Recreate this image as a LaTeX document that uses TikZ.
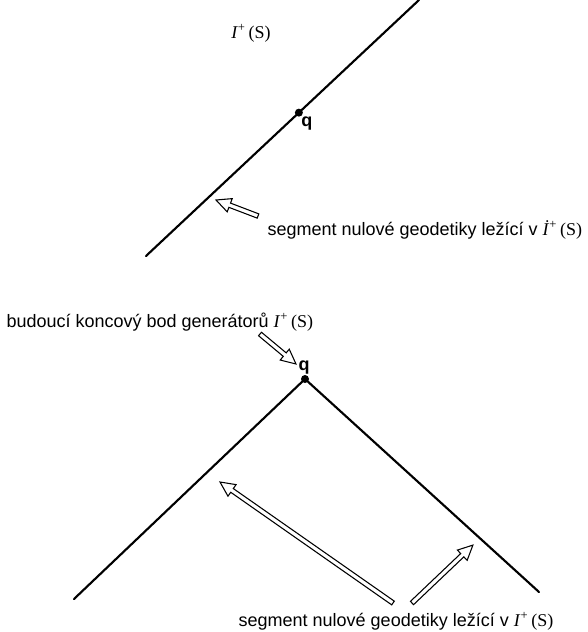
\documentclass[tikz,border=0pt]{standalone}
\usepackage{fontspec}
\setmainfont{Liberation Sans}
\newfontfamily\timesfont{Liberation Serif}
\usetikzlibrary{calc}

\tikzset{every picture/.style={line width=0.75pt}}
\tikzset{
  cone/.style={line width=1.6pt, line cap=round, line join=round},
  event/.style={circle, fill=black, inner sep=0pt, minimum size=6pt},
  labeltext/.style={inner sep=0pt, font=\fontsize{13.5}{16}\selectfont},
  qlabel/.style={inner sep=0pt, font=\fontsize{13.5}{16}\selectfont\bfseries},
  pointer/.style={line width=0.8pt, line join=miter, fill=white},
}
\newcommand{\Iplus}{{\timesfont\textit{I}\textsuperscript{+}\,(S)}}
\newcommand{\Idotplus}{{\timesfont\textit{İ}\textsuperscript{+}\,(S)}}

% hollow pointer: tail #1, tip #2
\newcommand{\hollowarrow}[2]{%
  \draw[pointer] let \p1=($(#2)-(#1)$), \n1={atan2(\y1,\x1)}, \n2={veclen(\x1,\y1)} in
    [shift={(#1)}, rotate=\n1]
    (0pt,-1.7pt) -- (\n2-11pt,-1.7pt) -- (\n2-11pt,-5.3pt) -- (\n2,0pt)
    -- (\n2-11pt,5.3pt) -- (\n2-11pt,1.7pt) -- (0pt,1.7pt) -- cycle;
}

\begin{document}
\begin{tikzpicture}[x=0.75pt,y=0.75pt,yscale=-1,xscale=1]
\useasboundingbox (0,0) rectangle (587,632);

%% upper sketch: null generator through q
\coordinate (lowA) at (146,256);
\coordinate (highA) at (419,0);
\draw[cone] (lowA) -- (highA);
\node[event] (qtop) at ($(lowA)!0.56!(highA)$) {};
\node[qlabel, anchor=north west] (qtoplbl) at ($(qtop)+(2,4)$) {q};

% Text Node
\node[labeltext] (future) at (251,33) {\Iplus};
% Text Node
\node[labeltext, anchor=west] (segtop) at (267,230) {segment nulové geodetiky ležící v \Idotplus};

\coordinate (tailA) at (258,216);
\coordinate (tipA) at (216,200);
\hollowarrow{tailA}{tipA}

%% lower sketch: generators ending at q
\coordinate (apex) at (305,379);
\coordinate (lowL) at (74,599);
\coordinate (lowR) at (539,592);
\draw[cone] (lowL) -- (apex) -- (lowR);
\node[event] (qbot) at (apex) {};
\node[qlabel, anchor=south] (qbotlbl) at ($(apex)+(-1,-4)$) {q};

% Text Node
\node[labeltext, anchor=west] (endpt) at (6,322) {budoucí koncový bod generátorů \Iplus};
% Text Node
\node[labeltext] (segbot) at (396,621) {segment nulové geodetiky ležící v \Iplus};

\coordinate (tailQ) at (260,334);
\coordinate (tipQ) at (296,364);
\hollowarrow{tailQ}{tipQ}

\coordinate (tailL) at (393,603);
\coordinate (tipL) at (220,482);
\hollowarrow{tailL}{tipL}

\coordinate (tailR) at (412,603);
\coordinate (tipR) at (473,545);
\hollowarrow{tailR}{tipR}

\end{tikzpicture}
\end{document}
